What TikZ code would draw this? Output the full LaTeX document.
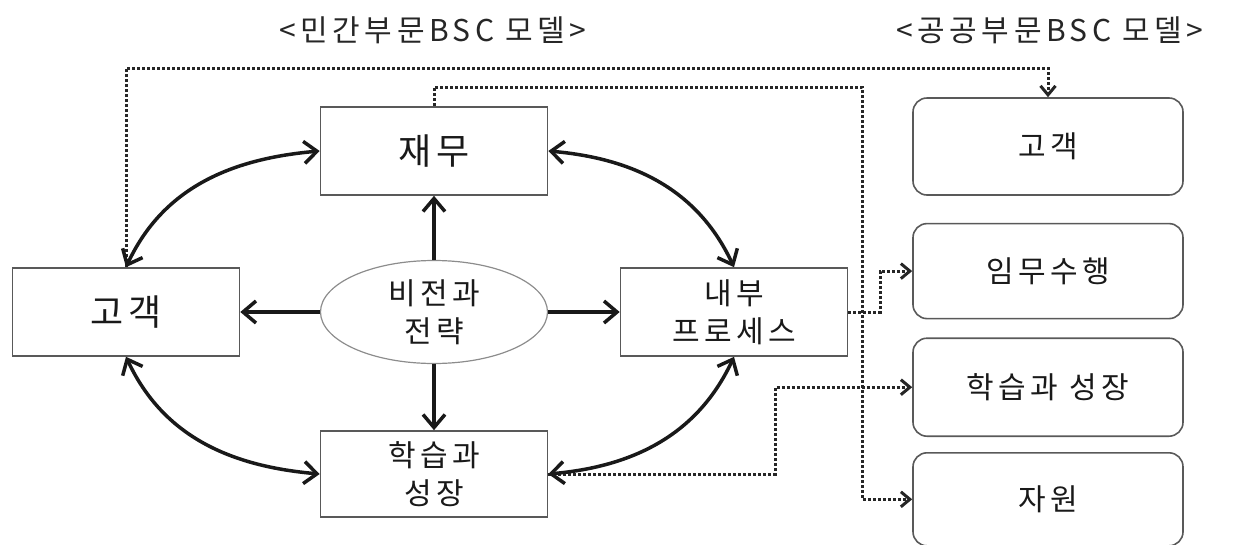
\documentclass[tikz,border=0pt]{standalone}
\usepackage{fontspec}
\setmainfont{Noto Sans CJK KR}
\newfontfamily\krwide[LetterSpace=15]{Noto Sans CJK KR}
\usepackage{tikz}
\usetikzlibrary{positioning}
\usetikzlibrary{arrows.meta,shapes.geometric}

\tikzset{
	plainbox/.style={draw=black!65, line width=1.6pt, minimum width=227pt, minimum height=88pt, inner sep=0pt, align=center, text=black!90},
	roundbox/.style={plainbox, rounded corners=14pt, minimum width=270pt},
	visionoval/.style={ellipse, draw=black!45, line width=1.2pt, minimum width=227pt, minimum height=103pt, inner sep=0pt, align=center, text=black!90},
	bigtext/.style={font=\krwide\fontsize{36}{42}\selectfont},
	midtext/.style={font=\krwide\fontsize{30}{38}\selectfont},
	titletext/.style={font=\krwide\fontsize{30}{34}\selectfont, text=black!85},
	boldarrow/.style={line width=3.5pt, black!90, -{Straight Barb[length=13pt,width=22pt]}},
	bothway/.style={boldarrow, {Straight Barb[length=13pt,width=22pt]}-{Straight Barb[length=13pt,width=22pt]}},
	dotarrow/.style={line width=3pt, dash pattern=on 3pt off 2pt, black!85, -{Straight Barb[length=9pt,width=15pt]}},
}

\begin{document}
\begin{tikzpicture}[x=1pt, y=1pt]
	
	% ------------------------------------------------
	% Page frame
	\useasboundingbox (0,0) rectangle (1233,-544);
	
	% ------------------------------------------------
	% Titles
	\node[titletext] (PrivTitle) at (433,-30) {<민간부문BSC 모델>};
	\node[titletext] (PubTitle)  at (1050,-30) {<공공부문BSC 모델>};
	
	% ------------------------------------------------
	% Private sector model
	\node[visionoval, midtext] (Vision) at (434,-312) {비전과\\전략};
	\node[plainbox, bigtext] (FinBox)  at (434,-151) {재무};
	\node[plainbox, bigtext] (CustBox) at (126,-312) {고객};
	\node[plainbox, midtext] (ProcBox) at (734,-312) {내부\\프로세스};
	\node[plainbox, midtext, minimum height=86pt] (LearnBox) at (434,-474) {학습과\\성장};
	
	% ------------------------------------------------
	% Public sector model
	\node[roundbox, midtext, minimum height=97pt] (PubCust) at (1048,-146.5) {고객};
	\node[roundbox, midtext, minimum height=95pt, below=27pt of PubCust] (PubMission) {임무수행};
	\node[roundbox, midtext, minimum height=98pt, below=18pt of PubMission] (PubLearn) {학습과 성장};
	\node[roundbox, midtext, minimum height=93pt, below=15pt of PubLearn] (PubRes) {자원};
	
	% ----------------
	% Turning points of the dotted links
	\path (CustBox.north) +(0,199)  coordinate (OuterTurn);
	\path (FinBox.north)  +(0,19)   coordinate (InnerTurn);
	\path (InnerTurn)     +(428,0)  coordinate (BusTop);
	\path (ProcBox.east)  +(32,0)   coordinate (MissionTurn);
	\path (LearnBox.east) +(227,0)  coordinate (LearnTurn);
	
	% ----------------
	% Dotted links to the public model
	\draw[dotarrow] (CustBox.north) -- (OuterTurn) -| (PubCust.north);
	\draw[dotarrow] (FinBox.north) -- (InnerTurn) -- (BusTop) |- (PubRes.west);
	\draw[dotarrow] (ProcBox.east) -- (MissionTurn) |- (PubMission.west);
	\draw[dotarrow] (LearnBox.east) -- (LearnTurn) |- (PubLearn.west);
	
	% ----------------
	% Vision to the four perspectives
	\draw[boldarrow] (Vision.north) -- (FinBox.south);
	\draw[boldarrow] (Vision.south) -- (LearnBox.north);
	\draw[boldarrow] (Vision.west)  -- (CustBox.east);
	\draw[boldarrow] (Vision.east)  -- (ProcBox.west);
	
	% ----------------
	% Links round the circle
	\draw[bothway] (CustBox.north) to[out=65, in=185] (FinBox.west);
	\draw[bothway] (FinBox.east) to[out=-5, in=115] (ProcBox.north);
	\draw[bothway] (CustBox.south) to[out=-65, in=175] (LearnBox.west);
	\draw[bothway] (LearnBox.east) to[out=5, in=-115] (ProcBox.south);
	
\end{tikzpicture}
\end{document}
